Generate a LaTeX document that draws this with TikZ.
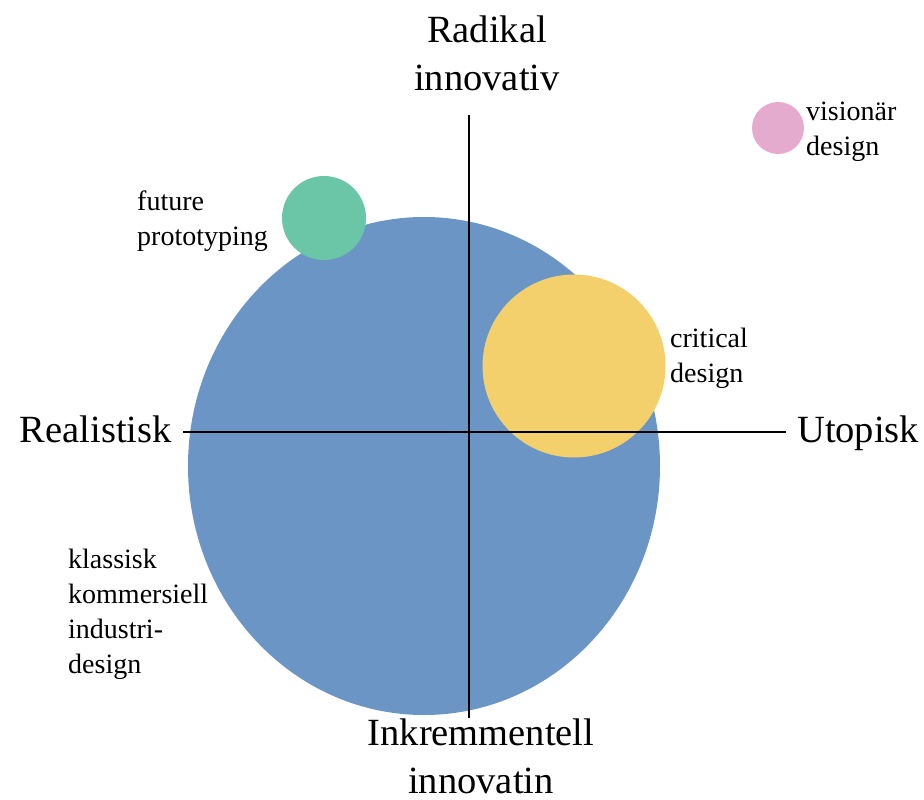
\documentclass[tikz,border=0pt]{standalone}
\usepackage{fontspec}
\setmainfont{Liberation Serif}
\definecolor{blobblue}{HTML}{6A95C5}
\definecolor{blobgreen}{HTML}{6BC6A7}
\definecolor{blobyellow}{HTML}{F3D06B}
\definecolor{blobpink}{HTML}{E4ABCE}
\begin{document}
\begin{tikzpicture}[x=1pt,y=-1pt,
  axis/.style={line width=1.6pt, draw=black},
  biglabel/.style={font=\fontsize{38.5}{48}\selectfont, align=center, inner sep=0pt},
  smalllabel/.style={font=\fontsize{28}{35}\selectfont, align=left, inner sep=0pt, anchor=base west},
]
\useasboundingbox (0,0) rectangle (924,800);

% bubbles
\fill[blobblue]   (424,466) ellipse [x radius=236, y radius=249];
\fill[blobgreen]  (324,218) circle [radius=42];
\fill[blobyellow] (574,366) circle [radius=91.5];
\fill[blobpink]   (778,128) circle [radius=26];

% axes
\coordinate (top)    at (469,115);
\coordinate (bottom) at (469,718);
\coordinate (left)   at (183,432);
\coordinate (right)  at (786,432);
\draw[axis] (top) -- (bottom);
\draw[axis] (left) -- (right);

% axis labels (base anchor = baseline of the last line)
\node[biglabel, anchor=base] (radikal) at (487,91) {Radikal\\innovativ};
\node[biglabel, anchor=base] (inkr) at (481,793) {Inkremmentell\\innovatin};
\node[biglabel, anchor=base east] (real) at (172,442) {Realistisk};
\node[biglabel, anchor=base west] (utop) at (797,442) {Utopisk};

% bubble labels
\node[smalllabel] (future) at (137,245) {future\\prototyping};
\node[smalllabel] (critical) at (670,382) {critical\\design};
\node[smalllabel] (vision) at (806,155) {visionär\\design};
\node[smalllabel] (klassisk) at (68,673) {klassisk\\kommersiell\\industri-\\design};
\end{tikzpicture}
\end{document}
